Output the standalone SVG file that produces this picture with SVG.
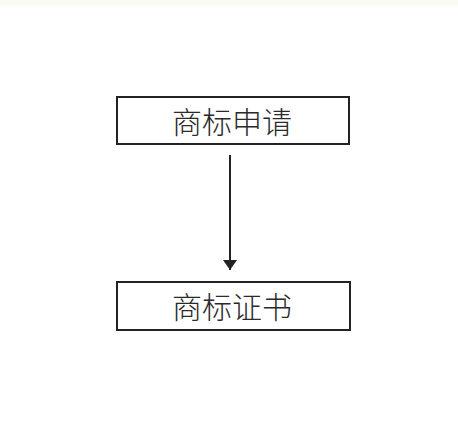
<svg xmlns="http://www.w3.org/2000/svg" width="458" height="448" viewBox="0 0 458 448">
<defs>
<style>
.box{fill:#ffffff;stroke:#222;stroke-width:2}
.lbl{font-family:"Noto Sans CJK SC","Noto Sans",sans-serif;font-size:30px;fill:#2a2a2a;text-anchor:middle;dominant-baseline:central;font-weight:300}
.edge{stroke:#222;stroke-width:2;fill:none}
</style>
<marker id="arr" viewBox="0 0 10 14" refX="10" refY="7" markerWidth="10" markerHeight="14" markerUnits="userSpaceOnUse" orient="auto">
<path d="M0,0 L10,7 L0,14 Z" fill="#222"/>
</marker>
</defs>
<rect width="458" height="448" fill="#ffffff"/>
<rect width="458" height="6" fill="#fbfaf3"/>
<g id="n1">
<rect class="box" x="117" y="97" width="232" height="47"/>
<text class="lbl" x="232" y="120">商标申请</text>
</g>
<g id="n2">
<rect class="box" x="117" y="282" width="233" height="48"/>
<text class="lbl" x="232" y="305">商标证书</text>
</g>
<g id="edges">
<line class="edge" x1="230" y1="155" x2="230" y2="270" marker-end="url(#arr)"/>
</g>
</svg>
